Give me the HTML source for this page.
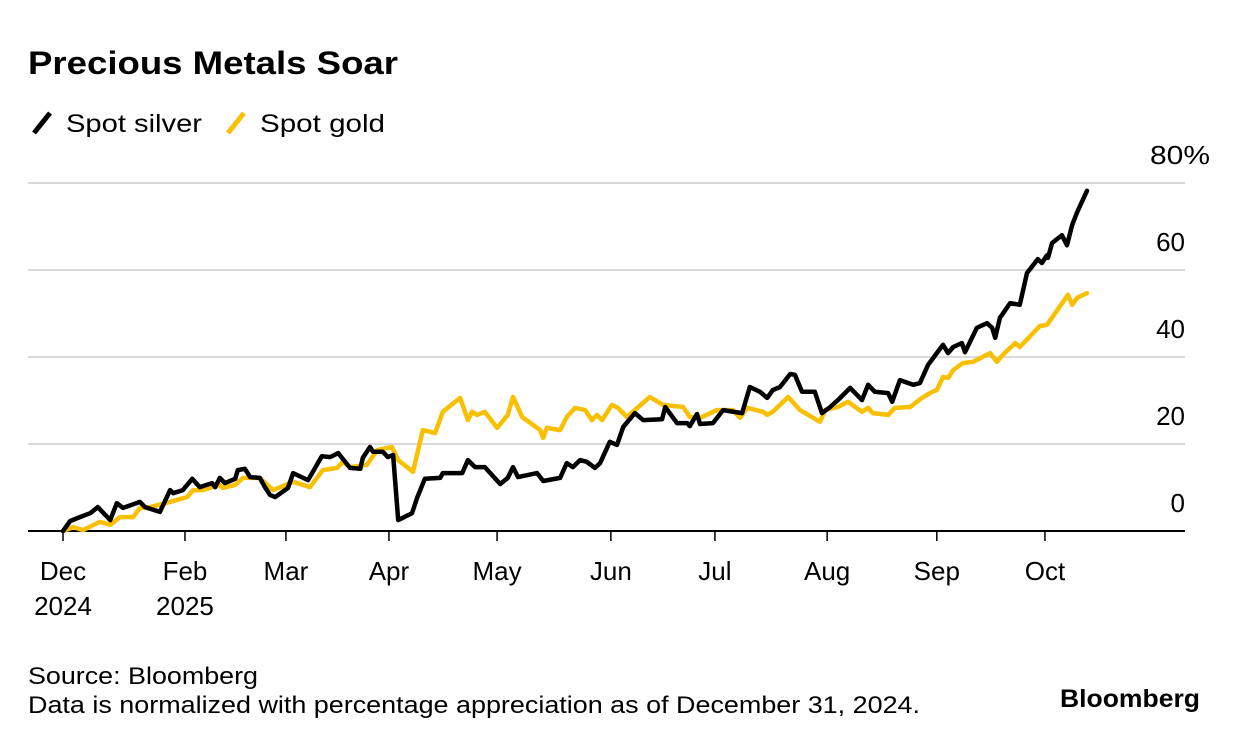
<!DOCTYPE html>
<html><head><meta charset="utf-8"><style>
body{margin:0;width:1240px;height:744px;background:#fff;font-family:"Liberation Sans",sans-serif;overflow:hidden}
svg text{font-family:"Liberation Sans",sans-serif}
</style></head><body>
<svg id="c" width="1240" height="744">
<text x="28" y="74" font-size="32" font-weight="bold" fill="#000" textLength="370" lengthAdjust="spacingAndGlyphs">Precious Metals Soar</text>
<g>
<g><line x1="34" y1="133" x2="50" y2="113" stroke="#000" stroke-width="5"/><text x="66" y="132" font-size="25" textLength="136" lengthAdjust="spacingAndGlyphs">Spot silver</text></g>
<g><line x1="228" y1="133" x2="244" y2="113" stroke="#f8c000" stroke-width="5"/><text x="260" y="132" font-size="25" textLength="125" lengthAdjust="spacingAndGlyphs">Spot gold</text></g>
</g>
<g id="grid"></g><g id="xaxis"></g><g id="series"></g>
<text x="28" y="684" font-size="24" textLength="230" lengthAdjust="spacingAndGlyphs">Source: Bloomberg</text>
<text x="28" y="713" font-size="24" textLength="892" lengthAdjust="spacingAndGlyphs">Data is normalized with percentage appreciation as of December 31, 2024.</text>
<text x="1060" y="707" font-size="25" font-weight="bold" textLength="140" lengthAdjust="spacingAndGlyphs">Bloomberg</text>
</svg>
<script>
const yTicks=[0,20,40,60,80];
const xTickPos=[0,23.8,43.5,63.6,84.7,106.9,127.2,149.1,170.5,191.6];
const xTickMonth=["Dec","Feb","Mar","Apr","May","Jun","Jul","Aug","Sep","Oct"];
const xTickYear=["2024","2025","","","","","","","",""];
const silverDay=[0,1.4,3.3,5.3,6.8,9.2,10.5,11.7,15,16,18.9,20.9,21.5,23.4,25.2,26.7,29.1,29.7,30.6,31.6,33.6,34.1,35.5,36.5,38.4,39.4,40.4,41.4,43.9,44.9,47.8,48.6,50.5,52.1,53.7,56,58,58.5,59.9,60.5,62.4,63.4,64.4,65.4,68.1,69.1,70.6,73.6,74.1,77.9,79,80.4,82.3,85.3,86.8,87.8,88.8,92.5,93.7,97,98.3,99.5,100.9,102.2,103.8,104.8,106.7,108.1,109.3,111.6,113.2,116.9,117.5,119.8,121.8,122.3,123.7,124.3,126.8,128.8,132.5,134,136,137.4,138.5,139.9,141.9,142.8,144.2,146.7,148.1,149.7,151.2,153.6,155.9,157.1,158.4,161,161.8,163.3,165.9,167.2,168.8,170.5,171.7,172.7,173.7,175.4,176,178.3,180.3,181.3,181.9,182.8,184.8,186.7,188.1,190.2,191,192,192.2,193,194.9,195.9,196.9,197.9,199.8];
const silverPct=[0,2.3,3.2,4.1,5.5,2.5,6.4,5.3,6.7,5.5,4.4,9.4,8.7,9.4,12,10.1,11,10.1,12.2,11,12,14,14.3,12.4,12.2,10.1,8.3,7.8,9.9,13.3,11.7,13.3,17.2,17,17.9,14.5,14.3,16.8,19.3,18.2,18.2,17,17.5,2.5,4.1,7.6,12,12.2,13.3,13.3,16.3,14.7,14.7,10.8,12.2,14.7,12.4,13.3,11.5,12.2,15.6,14.7,16.3,15.9,14.5,15.6,20.5,19.8,23.9,27.1,25.5,25.7,28.5,24.8,24.8,24.1,26.9,24.6,24.8,27.8,27.1,33.1,32,30.6,32.4,33.1,36.1,35.9,32,32,27.1,28.5,30.1,32.9,30.1,33.6,32,31.7,29.7,34.7,33.6,34,38.2,40.9,42.8,40.9,42.3,43.2,41.1,46.7,47.8,46.7,44.4,49,52.4,52,59.3,62.5,61.6,63.4,62.8,66.2,68,65.7,70.3,73.3,78.2];
const goldDay=[0,2,3.9,7.2,9.2,11.1,13.7,15,17,20.9,24.2,25.4,27.3,29.1,30.6,31.2,33.6,35.1,38.4,41,44.9,48.2,50.7,53.5,54.6,56,59.3,61.3,64.2,65.4,68.3,70.2,72.6,74.1,77.5,79,79.8,80.8,82.3,84.7,86.8,87.8,89.6,93.1,93.7,94.4,97,98.3,99.9,101.9,103.2,104.2,105.2,107.1,108.3,110,114.5,117.1,121,122.3,124.3,127.6,130.7,132.1,133.5,136.6,137.4,138.5,141.5,143.8,147.7,148.7,151.2,153.2,155.9,157.1,158,161,162.3,165.3,167.6,169.6,170.5,171.7,172.7,173.7,175.6,177.6,180.9,182.2,183.4,185.8,186.7,190.6,192,196.1,196.9,197.9,199.8];
const goldPct=[0,0.9,0.2,2.1,1.4,3.2,3.2,5.3,5.5,6.7,7.8,9.4,9.4,10.1,10.6,9.9,10.6,12.2,12.2,9.4,11.3,10.1,14,14.5,15.9,14.7,15.2,18.6,19.3,16.3,13.6,23.2,22.5,27.4,30.6,25.5,27.4,26.7,27.4,23.7,26.7,30.8,26.2,23.2,21.4,23.7,23.2,26.2,28.3,27.8,25.5,26.7,25.5,29,28.3,26.2,30.8,29,28.5,26.2,26,27.8,27.8,26,28.3,27.4,26.7,27.4,30.8,27.8,25.1,27.8,28.5,29.7,27.4,28.3,27.1,26.7,28.3,28.5,30.6,32,32.4,35.4,35.2,37,38.6,38.9,40.9,38.9,40.5,43.2,42.3,47.1,47.4,54.3,52,53.6,54.7];
const NS="http://www.w3.org/2000/svg";
const xs=d=>63+d*5.125, ys=v=>531-v*4.35;
function mk(t,a,p){const e=document.createElementNS(NS,t);for(const k in a)e.setAttribute(k,a[k]);p.appendChild(e);return e;}
const grid=document.getElementById('grid');
yTicks.forEach(v=>{
  if(v>0){const l=mk('line',{x1:28,x2:1185,y1:ys(v),y2:ys(v),stroke:'#d9d9d9','stroke-width':2},grid);
  
  }
  const t=mk('text',{x:1185,y:ys(v)-19,'font-size':26,'text-anchor':'end'},grid);
  t.textContent=v;
  if(v===80){const s=mk('tspan',{},t);s.textContent='%';t.setAttribute('text-anchor','start');t.setAttribute('x',1150);t.setAttribute('textLength',60);t.setAttribute('lengthAdjust','spacingAndGlyphs');}
  
  
});
const xa=document.getElementById('xaxis');
const base=mk('line',{x1:28,x2:1185,y1:531,y2:531,stroke:'#000','stroke-width':2},xa);


xTickPos.forEach((d,i)=>{
  const tk=mk('line',{x1:xs(d),x2:xs(d),y1:531,y2:541,stroke:'#000','stroke-width':1.5},xa);
  
  
  const t=mk('text',{x:xs(d),y:580,'font-size':26,'text-anchor':'middle'},xa);
  t.textContent=xTickMonth[i];
  
  
  if(xTickYear[i]){const y=mk('text',{x:xs(d),y:615,'font-size':26,'text-anchor':'middle'},xa);y.textContent=xTickYear[i];
  
  }
});
const sg=document.getElementById('series');
function line(ds,vs,col,name){
  const p=mk('path',{d:ds.map((d,i)=>(i?'L':'M')+xs(d).toFixed(1)+','+ys(vs[i]).toFixed(1)).join(''),fill:'none',stroke:col,'stroke-width':4.5,'stroke-linejoin':'round','stroke-linecap':'round'},sg);
  
  
}
line(goldDay,goldPct,'#f8c000','gold-line');
line(silverDay,silverPct,'#000','silver-line');
</script>
</body></html>
